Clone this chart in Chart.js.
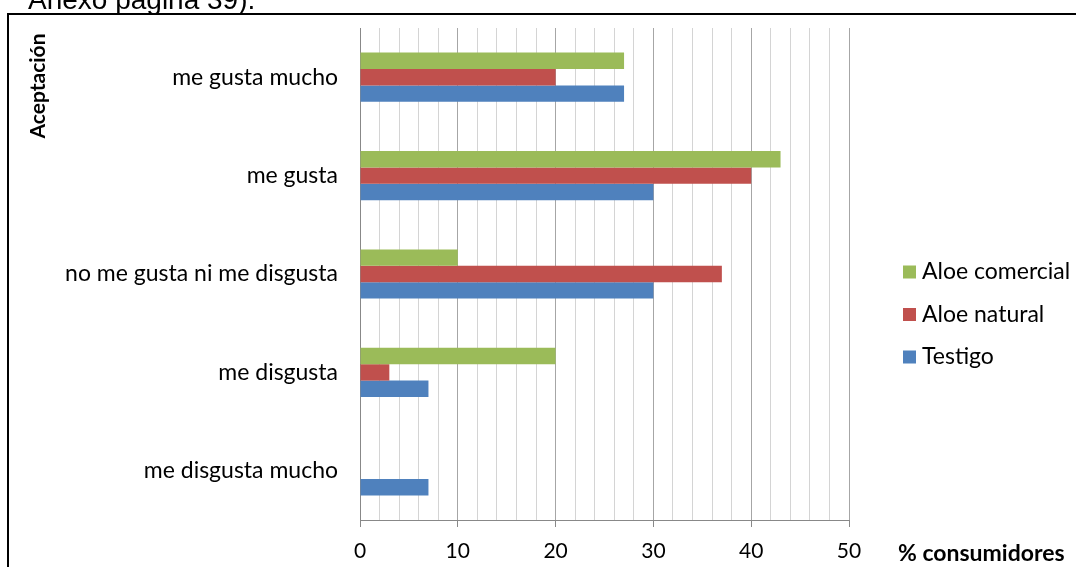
<!DOCTYPE html>
<html>
<head>
<meta charset="utf-8">
<script src="https://cdn.jsdelivr.net/npm/chart.js@4.4.1/dist/chart.umd.min.js"></script>
<style>
  html, body { margin: 0; padding: 0; background: #fff; }
  #wrap { position: relative; width: 1076px; height: 567px; }
  canvas { display: block; }
</style>
</head>
<body>
<div id="wrap"><canvas id="c" width="1076" height="567"></canvas></div>
<script>
// ---- data ----
const categories = ['me gusta mucho', 'me gusta', 'no me gusta ni me disgusta', 'me disgusta', 'me disgusta mucho'];
const seriesNames = ['Aloe comercial', 'Aloe natural', 'Testigo'];
const aloeComercial = [27, 43, 10, 20, 0];
const aloeNatural = [20, 40, 37, 3, 0];
const testigo = [27, 30, 30, 7, 7];
const xMin = 0, xMax = 50, xMinorStep = 2, xMajorStep = 10;
const yTitle = 'Aceptación';
const xTitle = '% consumidores';
const headerText = 'Anexo página 39).';

const colors = ['#9BBB59', '#C0504D', '#4F81BD'];
const FONT = 'Lato, "Open Sans", sans-serif';

const decor = {
  id: 'decor',
  beforeDraw(chart) {
    const ctx = chart.ctx;
    ctx.save();
    ctx.fillStyle = '#000';
    ctx.font = '28px "Liberation Sans", Arial, sans-serif';
    ctx.textBaseline = 'alphabetic';
    ctx.textAlign = 'left';
    ctx.fillText(headerText, 28, 9);
    ctx.strokeStyle = '#000';
    ctx.lineWidth = 2;
    ctx.beginPath();
    ctx.moveTo(1076, 14);
    ctx.lineTo(8, 14);
    ctx.lineTo(8, 567);
    ctx.stroke();
    ctx.restore();
  },
  afterDraw(chart) {
    const ctx = chart.ctx;
    ctx.save();
    ctx.fillStyle = '#000';
    ctx.font = 'bold 21px ' + FONT;
    ctx.textAlign = 'center';
    ctx.textBaseline = 'middle';
    ctx.translate(38, 86);
    ctx.rotate(-Math.PI / 2);
    ctx.fillText(yTitle, 0, 0);
    ctx.restore();
    ctx.save();
    ctx.fillStyle = '#000';
    ctx.font = 'bold 23px ' + FONT;
    ctx.textAlign = 'left';
    ctx.textBaseline = 'middle';
    ctx.fillText(xTitle, 898, 554);
    ctx.font = '23px ' + FONT;
    chart.data.datasets.forEach((ds, i) => {
      const yc = 272 + i * 42.5;
      ctx.fillStyle = ds.backgroundColor;
      ctx.fillRect(903, yc - 6.5, 13, 13);
      ctx.fillStyle = '#000';
      ctx.fillText(ds.label, 922, yc);
    });
    ctx.restore();
  }
};

new Chart(document.getElementById('c'), {
  type: 'bar',
  data: {
    labels: categories,
    datasets: [
      { label: seriesNames[0], data: aloeComercial, backgroundColor: colors[0] },
      { label: seriesNames[1], data: aloeNatural, backgroundColor: colors[1] },
      { label: seriesNames[2], data: testigo, backgroundColor: colors[2] }
    ]
  },
  options: {
    indexAxis: 'y',
    responsive: false,
    animation: false,
    devicePixelRatio: 1,
    layout: { padding: { left: 8, top: 28, right: 227, bottom: 0 } },
    datasets: { bar: { categoryPercentage: 0.5, barPercentage: 1.0, borderWidth: 0 } },
    plugins: { legend: { display: false }, tooltip: { enabled: false }, title: { display: false } },
    scales: {
      x: {
        type: 'linear', min: xMin, max: xMax,
        afterFit(s) { s.height = 47; s.paddingLeft = 0; s.paddingRight = 0; },
        ticks: {
          stepSize: xMinorStep, autoSkip: false, maxRotation: 0, padding: 12,
          color: '#000', font: { family: FONT, size: 21 },
          callback: v => (v % xMajorStep === 0 ? v : '')
        },
        grid: {
          display: true, drawTicks: true, tickLength: 7, lineWidth: 1,
          color: c => (c.tick && c.tick.value % xMajorStep === 0 ? '#a6a6a6' : '#d4d4d4'),
          tickColor: c => (c.tick && c.tick.value % xMajorStep === 0 ? '#888888' : 'rgba(0,0,0,0)')
        },
        border: { display: true, color: '#888888', width: 1 }
      },
      y: {
        type: 'category',
        afterFit(s) { s.width = 352; s.paddingTop = 0; s.paddingBottom = 0; },
        ticks: { color: '#000', padding: 22, font: { family: FONT, size: 23 } },
        grid: { display: false, drawTicks: false },
        border: { display: true, color: '#888888', width: 1 }
      }
    }
  },
  plugins: [decor]
});
</script>
</body>
</html>
